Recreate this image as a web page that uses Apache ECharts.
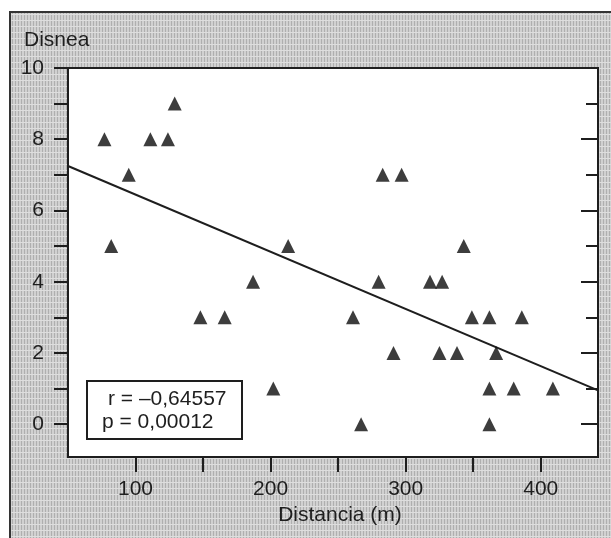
<!DOCTYPE html>
<html>
<head>
<meta charset="utf-8">
<title>Disnea vs Distancia</title>
<script src="https://cdn.jsdelivr.net/npm/echarts@6/dist/echarts.min.js"></script>
<style>
  html, body { margin: 0; padding: 0; background: #fff; }
  #main { width: 611px; height: 538px; }
</style>
</head>
<body>
<div id="main"></div>
<script>
// datos
const distancia = [77, 82, 95, 111, 124, 129, 148, 166, 187, 202, 213, 261, 267, 280, 283,
                   291, 297, 318, 325, 327, 338, 343, 349, 362, 362, 362, 367, 380, 386, 409];
const disnea    = [8, 5, 7, 8, 8, 9, 3, 3, 4, 1, 5, 3, 0, 4, 7,
                   2, 7, 4, 2, 4, 2, 5, 3, 3, 1, 0, 2, 1, 3, 1];

const rectaX = [50, 442.4];
const rectaY = [7.25, 0.95];

// ejes
const xTicks = [100, 150, 200, 250, 300, 350, 400];
const xLabels = [100, 200, 300, 400];
const yTicks = [0, 1, 2, 3, 4, 5, 6, 7, 8, 9, 10];
const yLabels = [0, 2, 4, 6, 8, 10];
const yTicksPares = [0, 2, 4, 6, 8];
const yTicksImpares = [1, 3, 5, 7, 9];

const textoR = 'r = –0,64557';
const textoP = 'p = 0,00012';

const FONT = '"Liberation Sans", Arial, Helvetica, sans-serif';
const INK = '#1e1e1e';

// textura gris del fondo
function textura() {
  const c = document.createElement('canvas');
  c.width = 6; c.height = 6;
  const g = c.getContext('2d');
  g.fillStyle = '#d1d1d1'; g.fillRect(0, 0, 6, 6);
  g.fillStyle = '#afafaf'; g.fillRect(0, 0, 1, 6); g.fillRect(3, 0, 1, 6);
  g.fillStyle = '#dedede'; g.fillRect(0, 2, 6, 1);
  return c;
}

const myChart = echarts.init(document.getElementById('main'));

const puntos = distancia.map((d, i) => [d, disnea[i]]);
const recta = rectaX.map((x, i) => [x, rectaY[i]]);

const labelStyle = { color: INK, fontFamily: FONT, fontSize: 21 };

myChart.setOption({
  backgroundColor: '#fff',
  animation: false,
  graphic: [
    {
      type: 'rect', z: -100, silent: true,
      shape: { x: 10, y: 12, width: 640, height: 560 },
      style: { fill: { image: textura(), repeat: 'repeat' }, stroke: '#333', lineWidth: 2 }
    },
    {
      type: 'text', z: 100, x: 24, y: 40,
      style: { text: 'Disnea', font: '21px ' + FONT, fill: INK, verticalAlign: 'middle' }
    },
    {
      type: 'rect', z: 100,
      shape: { x: 87, y: 381, width: 155, height: 58 },
      style: { fill: '#fff', stroke: INK, lineWidth: 2 }
    },
    {
      type: 'text', z: 101, x: 108, y: 399,
      style: { text: textoR, font: '21px ' + FONT, fill: INK, verticalAlign: 'middle' }
    },
    {
      type: 'text', z: 101, x: 102, y: 422,
      style: { text: textoP, font: '21px ' + FONT, fill: INK, verticalAlign: 'middle' }
    }
  ],
  grid: {
    left: 68, top: 68, right: 13, bottom: 81,
    show: true, backgroundColor: '#fff', borderColor: INK, borderWidth: 2
  },
  xAxis: {
    type: 'value', min: 50, max: 442.4, interval: 50,
    name: 'Distancia (m)', nameLocation: 'middle', nameGap: 47,
    nameTextStyle: { color: INK, fontFamily: FONT, fontSize: 21, padding: [0, 0, 0, 14] },
    axisLine: { show: false, onZero: false },
    splitLine: { show: false },
    axisTick: { show: true, length: 15, customValues: xTicks, lineStyle: { color: INK, width: 2 } },
    axisLabel: Object.assign({ margin: 22, customValues: xLabels }, labelStyle)
  },
  yAxis: [
    {
      type: 'value', position: 'left', min: -0.92, max: 10,
      axisLine: { show: false, onZero: false },
      splitLine: { show: false },
      axisTick: { show: true, length: 14, customValues: yTicks, lineStyle: { color: INK, width: 2 } },
      axisLabel: Object.assign({ margin: 24, customValues: yLabels }, labelStyle)
    },
    {
      type: 'value', position: 'right', min: -0.92, max: 10,
      axisLine: { show: false, onZero: false },
      splitLine: { show: false },
      axisTick: { show: true, inside: true, length: 17, customValues: yTicksPares, lineStyle: { color: INK, width: 2 } },
      axisLabel: { show: false }
    },
    {
      type: 'value', position: 'right', min: -0.92, max: 10,
      axisLine: { show: false, onZero: false },
      splitLine: { show: false },
      axisTick: { show: true, inside: true, length: 12, customValues: yTicksImpares, lineStyle: { color: INK, width: 2 } },
      axisLabel: { show: false }
    }
  ],
  series: [
    {
      name: 'regresion', type: 'line', data: recta, z: 2,
      symbol: 'none', silent: true,
      lineStyle: { color: INK, width: 2 }
    },
    {
      name: 'pacientes', type: 'scatter', data: puntos, z: 3,
      symbol: 'triangle', symbolSize: [14, 14],
      itemStyle: { color: '#0d0d0d' }
    }
  ]
});
</script>
</body>
</html>
